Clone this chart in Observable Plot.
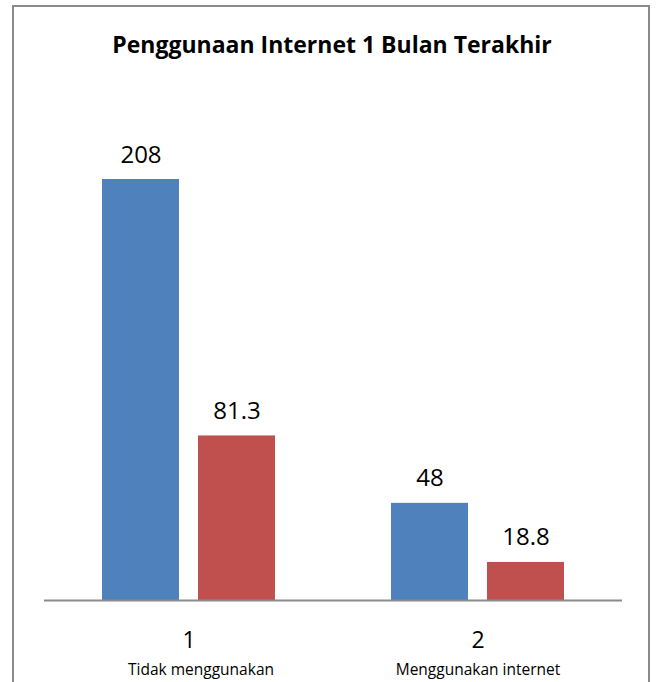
<!DOCTYPE html>
<html>
<head>
<meta charset="utf-8">
<script src="https://cdn.jsdelivr.net/npm/d3@7"></script>
<script src="https://cdn.jsdelivr.net/npm/@observablehq/plot@0.6"></script>
<style>
  html, body { margin: 0; padding: 0; background: #fff; }
  #wrap { position: relative; width: 659px; height: 682px; overflow: hidden; }
  #frame { position: absolute; left: 12px; top: 5px; width: 638px; height: 700px;
           border: 2.5px solid #8a8a8a; box-sizing: border-box; border-bottom: none; }
  #title { position: absolute; left: 12px; width: 640px; top: 28px; text-align: center;
           font-family: "Open Sans", sans-serif; font-weight: bold; font-size: 23px; color: #000; }
  #chart { position: absolute; left: 0; top: 0; }
</style>
</head>
<body>
<div id="wrap">
  <div id="frame"></div>
  <div id="title">Penggunaan Internet 1 Bulan Terakhir</div>
  <div id="chart"></div>
</div>
<script>
const groups = ["1", "2"];
const groupLabels = ["Tidak menggunakan", "Menggunakan internet"];
const series = ["A", "B"];
const seriesA = [208, 48];
const seriesB = [81.3, 18.8];
const seriesColors = ["#4F81BD", "#C0504D"];

const data = [];
groups.forEach((g, i) => {
  data.push({group: g, series: series[0], value: seriesA[i]});
  data.push({group: g, series: series[1], value: seriesB[i]});
});
const cats = groups.map((g, i) => ({group: g, label: groupLabels[i]}));

const chart = Plot.plot({
  width: 659,
  height: 682,
  marginTop: 94,
  marginBottom: 82,
  marginLeft: 43,
  marginRight: 37,
  style: {background: "transparent", fontFamily: "'Open Sans', sans-serif"},
  fx: {domain: groups, padding: 0, axis: null},
  x: {domain: series, paddingInner: 0.2, paddingOuter: 0.6, axis: null},
  y: {domain: [0, 250], axis: null},
  color: {domain: series, range: seriesColors},
  marks: [
    Plot.barY(data, {fx: "group", x: "series", y: "value", fill: "series"}),
    Plot.ruleY([0], {stroke: "#8a8a8a", strokeWidth: 2}),
    Plot.text(data, {fx: "group", x: "series", y: "value", text: d => String(d.value),
      lineAnchor: "bottom", dy: -17, fontSize: 24, fill: "#000"}),
    Plot.text(cats, {fx: "group", text: "group", frameAnchor: "bottom", lineAnchor: "middle",
      dy: 40, fontSize: 23, fill: "#000"}),
    Plot.text(cats.slice(0, 1), {fx: "group", text: "label", frameAnchor: "bottom", lineAnchor: "middle",
      dx: 12, dy: 70, fontSize: 15.5, fill: "#000"}),
    Plot.text(cats.slice(1), {fx: "group", text: "label", frameAnchor: "bottom", lineAnchor: "middle",
      dy: 70, fontSize: 15.5, fill: "#000"})
  ]
});
document.getElementById("chart").appendChild(chart);
</script>
</body>
</html>
